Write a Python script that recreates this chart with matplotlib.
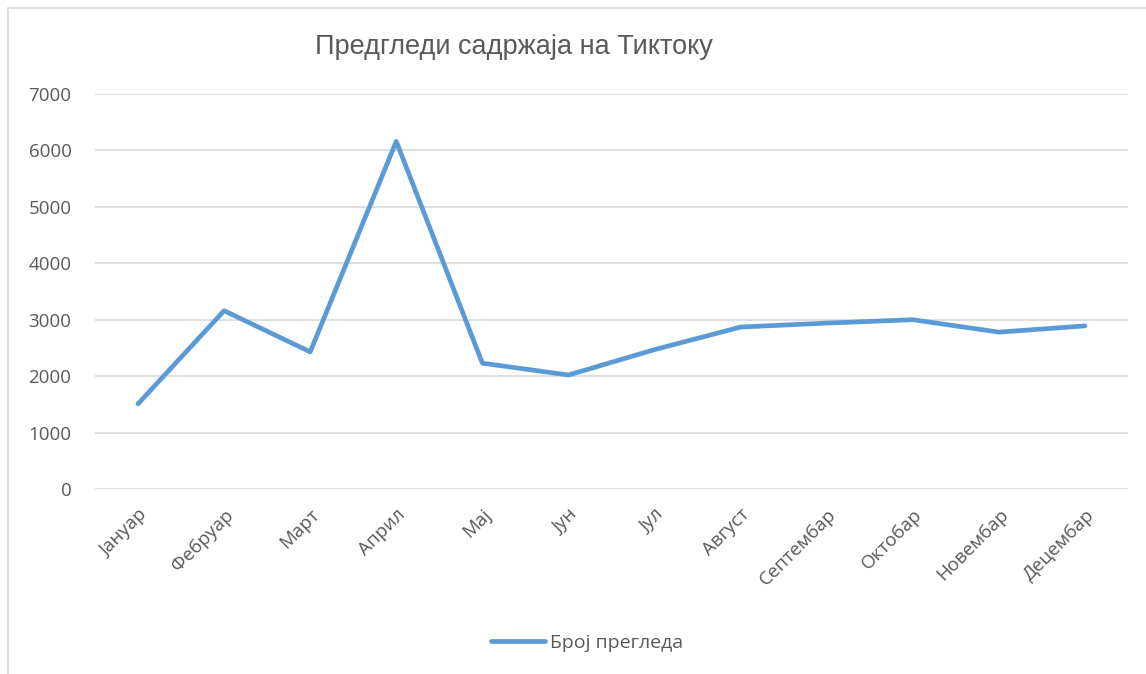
import matplotlib
matplotlib.use("Agg")
import matplotlib.pyplot as plt
from matplotlib.patches import Rectangle

months = ["Јануар", "Фебруар", "Март", "Април", "Мај", "Јун", "Јул",
          "Август", "Септембар", "Октобар", "Новембар", "Децембар"]
views = [1510, 3160, 2430, 6160, 2230, 2020, 2470, 2870, 2940, 3000, 2780, 2890]
yticks = [0, 1000, 2000, 3000, 4000, 5000, 6000, 7000]
title = "Предгледи садржаја на Тиктоку"
series_name = "Број прегледа"

plt.rcParams['font.family'] = ['Liberation Sans Narrow', 'Liberation Sans', 'DejaVu Sans']
W, H = 1146, 674
fig = plt.figure(figsize=(W / 100, H / 100), dpi=100)
fig.patch.set_facecolor("white")

fig.patches.append(Rectangle((8 / W, -0.01), 1.02, 1 - 8 / H + 0.01, transform=fig.transFigure,
                             fill=False, edgecolor="#D9D9D9", linewidth=1.2))

ax = fig.add_axes([95 / W, 1 - 489 / H, (1128 - 95) / W, (489 - 94) / H])
x = list(range(len(months)))
line, = ax.plot(x, views, color="#5B9BD5", linewidth=3.4, solid_capstyle="round",
                solid_joinstyle="round", label=series_name)
ax.set_xlim(-0.5, len(months) - 0.5)
ax.set_ylim(0, 7000)
ax.set_yticks(yticks)
ax.set_yticklabels([str(v) for v in yticks], fontsize=13.5, color="#595959",
                   family=['Open Sans', 'DejaVu Sans'])
ax.set_xticks(x)
ax.set_xticklabels(months, rotation=45, ha="right", rotation_mode="anchor",
                   fontsize=13.5, color="#595959", family=['Open Sans', 'DejaVu Sans'])
ax.tick_params(axis="both", length=0)
ax.tick_params(axis="y", pad=17)
ax.tick_params(axis="x", pad=12)
ax.grid(axis="y", color="#D9D9D9", linewidth=1.2)
ax.set_axisbelow(True)
for s in ax.spines.values():
    s.set_visible(False)

fig.text(514 / W, 1 - 47 / H, title, ha="center", va="center", fontsize=19.5,
         color="#595959")

fig.legend(handles=[line], loc="center", bbox_to_anchor=(587 / W, 1 - 643 / H),
           frameon=False, handlelength=2.8, handletextpad=0.25,
           prop={'family': ['Open Sans', 'DejaVu Sans'], 'size': 14},
           labelcolor="#595959")

fig.savefig("out.png", dpi=100)
